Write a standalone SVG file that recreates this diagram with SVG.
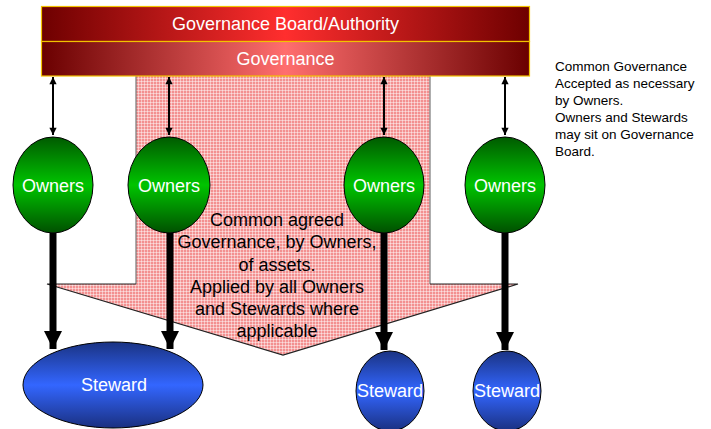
<svg xmlns="http://www.w3.org/2000/svg" width="711" height="429" viewBox="0 0 711 429">
  <defs>
    <linearGradient id="gBoard" x1="0" y1="0" x2="1" y2="0">
      <stop offset="0" stop-color="#6e0000"/>
      <stop offset="0.5" stop-color="#ff2e2e"/>
      <stop offset="1" stop-color="#6e0000"/>
    </linearGradient>
    <linearGradient id="gGov" x1="0" y1="0" x2="1" y2="0">
      <stop offset="0" stop-color="#6a0000"/>
      <stop offset="0.5" stop-color="#ff6e6e"/>
      <stop offset="1" stop-color="#6a0000"/>
    </linearGradient>
    <linearGradient id="gGreen" x1="0" y1="0" x2="0" y2="1">
      <stop offset="0" stop-color="#005a00"/>
      <stop offset="0.5" stop-color="#00c400"/>
      <stop offset="1" stop-color="#005000"/>
    </linearGradient>
    <linearGradient id="gBlue" x1="0" y1="0" x2="0" y2="1">
      <stop offset="0" stop-color="#1a3383"/>
      <stop offset="0.5" stop-color="#3366ff"/>
      <stop offset="1" stop-color="#1a3080"/>
    </linearGradient>
    <pattern id="plaid" width="3" height="3" patternUnits="userSpaceOnUse">
      <rect width="3" height="3" fill="#f39090"/>
      <rect width="3" height="1" fill="#ffffff" opacity="0.45"/>
      <rect width="1" height="3" fill="#ffffff" opacity="0.45"/>
    </pattern>
    <marker id="tip" viewBox="0 0 10 10" refX="10" refY="5" markerWidth="4" markerHeight="3.6" orient="auto-start-reverse" markerUnits="strokeWidth">
      <path d="M0,0 L10,5 L0,10 z" fill="#000"/>
    </marker>
    <marker id="bigTip" viewBox="0 0 10 10" refX="10" refY="5" markerWidth="2.6" markerHeight="2.75" orient="auto" markerUnits="strokeWidth">
      <path d="M0,0 L10,5 L0,10 z" fill="#000"/>
    </marker>
  </defs>
  <style>
    .w { fill: #ffffff; font-family: "Liberation Sans", Arial, sans-serif; font-size: 18px; text-anchor: middle; }
    .b { fill: #000000; font-family: "Liberation Sans", Arial, sans-serif; font-size: 18px; text-anchor: middle; }
    .side { fill: #000000; font-family: "Liberation Sans", Arial, sans-serif; font-size: 13.5px; }
    .owner { fill: url(#gGreen); stroke: #000; stroke-width: 1; }
    .steward { fill: url(#gBlue); stroke: #000; stroke-width: 1; }
    .thin { stroke: #000; stroke-width: 2; fill: none; marker-start: url(#tip); marker-end: url(#tip); }
    .thick { stroke: #000; stroke-width: 7; fill: none; marker-end: url(#bigTip); }
  </style>

  <!-- Broad downward arrow: shared governance -->
  <g id="common-governance">
    <polygon points="136,76 430,76 430,284 518,284 283,355 47,284 136,284" fill="url(#plaid)"/>
    <polyline points="136,76 136,284" fill="none" stroke="#777" stroke-width="1.2"/>
    <polyline points="430,76 430,284" fill="none" stroke="#777" stroke-width="1.2"/>
    <polyline points="136,284 47,284 283,355 518,284 430,284" fill="none" stroke="#222" stroke-width="1.2"/>
    <text class="b" x="277" y="226">Common agreed</text>
    <text class="b" x="277" y="248">Governance, by Owners,</text>
    <text class="b" x="277" y="271">of assets.</text>
    <text class="b" x="277" y="293">Applied by all Owners</text>
    <text class="b" x="277" y="315">and Stewards where</text>
    <text class="b" x="277" y="337">applicable</text>
  </g>

  <!-- Governance bars -->
  <g id="board">
    <rect x="41.5" y="6.5" width="488" height="35" fill="url(#gBoard)" stroke="#f2c200" stroke-width="1.2"/>
    <text class="w" x="285.5" y="30">Governance Board/Authority</text>
  </g>
  <g id="governance">
    <rect x="41.5" y="41.5" width="488" height="34.5" fill="url(#gGov)" stroke="#f2c200" stroke-width="1.2"/>
    <text class="w" x="285.5" y="65">Governance</text>
  </g>

  <!-- Connectors -->
  <g id="connectors">
    <line class="thin" x1="53" y1="77" x2="53" y2="135"/>
    <line class="thin" x1="169" y1="77" x2="169" y2="135"/>
    <line class="thin" x1="384" y1="77" x2="384" y2="135"/>
    <line class="thin" x1="505" y1="77" x2="505" y2="135"/>
    <line class="thick" x1="53" y1="233" x2="53" y2="349"/>
    <line class="thick" x1="170" y1="233" x2="170" y2="349"/>
    <line class="thick" x1="384" y1="233" x2="384" y2="350"/>
    <line class="thick" x1="505" y1="233" x2="505" y2="350"/>
  </g>

  <!-- Owners -->
  <g id="owner-1">
    <ellipse class="owner" cx="53" cy="185" rx="40" ry="48"/>
    <text class="w" x="53" y="192">Owners</text>
  </g>
  <g id="owner-2">
    <ellipse class="owner" cx="169" cy="185" rx="41" ry="48"/>
    <text class="w" x="169" y="192">Owners</text>
  </g>
  <g id="owner-3">
    <ellipse class="owner" cx="384" cy="185" rx="40" ry="48"/>
    <text class="w" x="384" y="192">Owners</text>
  </g>
  <g id="owner-4">
    <ellipse class="owner" cx="505" cy="185" rx="40" ry="48"/>
    <text class="w" x="505" y="192">Owners</text>
  </g>

  <!-- Stewards -->
  <g id="steward-1">
    <ellipse class="steward" cx="113" cy="385" rx="90" ry="43"/>
    <text class="w" x="114" y="391">Steward</text>
  </g>
  <g id="steward-2">
    <ellipse class="steward" cx="390" cy="391" rx="34" ry="40"/>
    <text class="w" x="390" y="397">Steward</text>
  </g>
  <g id="steward-3">
    <ellipse class="steward" cx="507" cy="391" rx="34" ry="40"/>
    <text class="w" x="507" y="397">Steward</text>
  </g>

  <!-- Side note -->
  <g id="note">
    <text class="side" x="555" y="71">Common Governance</text>
    <text class="side" x="555" y="88">Accepted as necessary</text>
    <text class="side" x="555" y="105">by Owners.</text>
    <text class="side" x="555" y="122">Owners and Stewards</text>
    <text class="side" x="555" y="139">may sit on Governance</text>
    <text class="side" x="555" y="156">Board.</text>
  </g>
</svg>
